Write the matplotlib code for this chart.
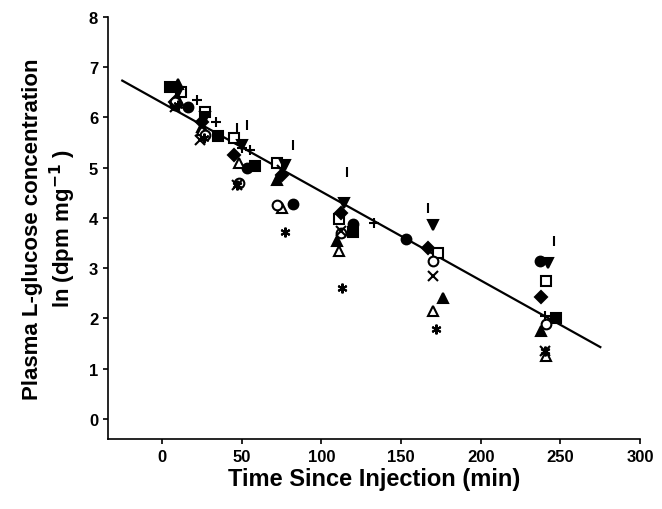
import matplotlib
matplotlib.use("Agg")
import matplotlib.pyplot as plt
import numpy as np

plt.rcParams['font.family'] = ['Liberation Sans', 'DejaVu Sans']

series = {
    'fcirc': ([8,16,53,82,120,153,237],[6.25,6.2,5.0,4.27,3.88,3.58,3.15]),
    'fsq':   ([5,35,58,120,247],[6.6,5.62,5.03,3.72,2.0]),
    'osq':   ([12,27,45,72,111,173,241],[6.5,6.1,5.6,5.1,3.97,3.3,2.75]),
    'ftri':  ([10,25,72,110,176,238],[6.67,5.8,4.75,3.55,2.4,1.75]),
    'otri':  ([10,25,48,75,111,170,241],[6.35,5.75,5.1,4.2,3.35,2.15,1.25]),
    'fdia':  ([8,25,45,75,112,167,238],[6.3,5.9,5.25,4.85,4.1,3.4,2.42]),
    'ocirc': ([8,27,48,72,112,170,241],[6.3,5.65,4.7,4.25,3.7,3.15,1.9]),
    'x':     ([8,24,47,75,112,170,240],[6.2,5.55,4.65,4.95,3.75,2.85,1.35]),
    'ast':   ([10,26,47,77,113,172,240],[6.25,5.6,4.65,3.72,2.6,1.8,1.35]),
    'finv':  ([10,27,50,77,114,170,242],[6.5,6.0,5.45,5.05,4.3,3.85,3.1]),
    'plus':  ([22,34,50,55,133,240],[6.35,5.9,5.4,5.35,3.9,2.05]),
    'tick':  ([47,53,82,116,167,246],[5.78,5.85,5.45,4.92,4.2,3.55]),
}
styles = {
    'fcirc': dict(marker='o', mfc='black'), 'fsq': dict(marker='s', mfc='black'),
    'osq': dict(marker='s', mfc='white'), 'ftri': dict(marker='^', mfc='black'),
    'otri': dict(marker='^', mfc='white'), 'fdia': dict(marker='D', mfc='black', ms=6),
    'ocirc': dict(marker='o', mfc='white'), 'x': dict(marker='x'),
    'ast': dict(marker=(6,2,0)), 'finv': dict(marker='v', mfc='black'),
    'plus': dict(marker='+'), 'tick': dict(marker='|'),
}
line_x = [-25, 275]
slope, intercept = -0.01767, 6.29

fig = plt.figure(figsize=(6.62,5.10), dpi=100)
ax = fig.add_axes([0.163,0.137,0.804,0.828])
ax.plot(line_x, [intercept+slope*x for x in line_x], color='black', lw=1.6)
for k,(xs,ys) in series.items():
    st = dict(ms=7, mec='black', color='black', ls='none', mew=1.5)
    st.update(styles[k])
    ax.plot(xs, ys, **st)
ax.set_xlim(-34,300); ax.set_ylim(-0.4,8)
ax.set_xticks(range(0,301,50)); ax.set_yticks(range(0,9))
ax.spines['top'].set_visible(False); ax.spines['right'].set_visible(False)
ax.spines['left'].set_linewidth(1.2); ax.spines['bottom'].set_linewidth(1.2)
ax.tick_params(labelsize=12, direction='out', width=1.2)
for t in ax.get_xticklabels()+ax.get_yticklabels():
    t.set_fontweight('bold')
ax.set_xlabel('Time Since Injection (min)', fontsize=17, fontweight='bold', labelpad=2)
ax.set_ylabel('Plasma L-glucose concentration\nln (dpm mg$^{\\mathbf{-1}}$ )', fontsize=16, fontweight='bold', labelpad=8)
fig.savefig('out.png')
